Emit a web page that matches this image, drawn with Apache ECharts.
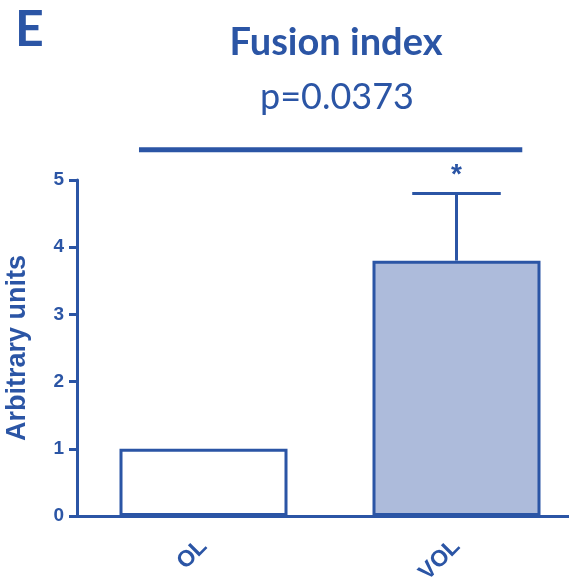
<!DOCTYPE html>
<html>
<head>
<meta charset="utf-8">
<script src="https://cdn.jsdelivr.net/npm/echarts@6/dist/echarts.min.js"></script>
<style>
  html, body { margin: 0; padding: 0; background: #fff; }
  #chart { width: 569px; height: 582px; }
</style>
</head>
<body>
<div id="chart"></div>
<script>
// data
const categories = ['OL', 'VOL'];
const means = [1.0, 3.8];
const errUpper = [null, 4.8];
const barFills = ['#ffffff', '#adbbdb'];
const yTicks = [0, 1, 2, 3, 4, 5];
const sigBracket = [[0, 1, 5.45]]; // from category, to category, height
const starHeight = 5.07;

const blue = '#2b55a5';

const chart = echarts.init(document.getElementById('chart'));

const option = {
    backgroundColor: '#fff',
    animation: false,
    graphic: [
        { type: 'text', left: 15, top: 5, style: { text: 'E', fill: blue, font: 'bold 50px Lato' } }
    ],
    title: [
        {
            text: 'Fusion index',
            left: 331, top: 19, textAlign: 'center',
            textStyle: { color: blue, fontFamily: 'Lato', fontWeight: 'bold', fontSize: 38 }
        },
        {
            text: 'p=0.0373',
            left: 332, top: 74, textAlign: 'center',
            textStyle: { color: blue, fontFamily: 'Lato', fontWeight: 'normal', fontSize: 36 }
        }
    ],
    grid: { left: 77, top: 180, width: 506, height: 336, outerBoundsMode: 'none' },
    xAxis: {
        type: 'category',
        data: categories,
        axisLine: { lineStyle: { color: blue, width: 3 } },
        axisTick: { alignWithLabel: true, length: 9, lineStyle: { color: blue, width: 3 } },
        axisLabel: {
            rotate: 45, margin: 27, color: blue,
            fontFamily: 'Liberation Sans', fontWeight: 'bold', fontSize: 23
        }
    },
    yAxis: {
        type: 'value',
        min: 0, max: 5, interval: 1,
        name: 'Arbitrary units',
        nameLocation: 'middle',
        nameGap: 46,
        nameTextStyle: { color: blue, fontFamily: 'Liberation Sans', fontWeight: 'bold', fontSize: 27 },
        axisLine: { show: true, lineStyle: { color: blue, width: 3 } },
        axisTick: { show: true, length: 8, lineStyle: { color: blue, width: 3 } },
        axisLabel: {
            margin: 13, color: blue,
            fontFamily: 'Liberation Sans', fontWeight: 'bold', fontSize: 19,
            formatter: v => yTicks.includes(v) ? String(v) : ''
        },
        splitLine: { show: false }
    },
    series: [
        {
            type: 'bar',
            barWidth: 168,
            data: means.map((v, i) => ({
                value: v,
                itemStyle: { color: barFills[i], borderColor: blue, borderWidth: 3 }
            }))
        },
        {
            type: 'custom',
            data: errUpper.map((u, i) => [i, means[i], u]).filter(d => d[2] !== null),
            z: 3,
            renderItem: (params, api) => {
                const x = api.value(0);
                const base = api.coord([x, api.value(1)]);
                const top = api.coord([x, api.value(2)]);
                const star = api.coord([x, starHeight]);
                const half = api.size([1, 0])[0] * 0.175;
                return {
                    type: 'group',
                    children: [
                        { type: 'line', shape: { x1: base[0], y1: base[1], x2: top[0], y2: top[1] },
                          style: { stroke: blue, lineWidth: 3 } },
                        { type: 'line', shape: { x1: top[0] - half, y1: top[1], x2: top[0] + half, y2: top[1] },
                          style: { stroke: blue, lineWidth: 3 } },
                        { type: 'text', x: star[0], y: star[1],
                          style: { text: '*', fill: blue, font: 'bold 28px Liberation Sans',
                                   align: 'center', verticalAlign: 'middle' } }
                    ]
                };
            }
        },
        {
            type: 'custom',
            data: sigBracket,
            z: 3,
            renderItem: (params, api) => {
                const band = api.size([1, 0])[0];
                const a = api.coord([api.value(0), api.value(2)]);
                const b = api.coord([api.value(1), api.value(2)]);
                return {
                    type: 'line',
                    shape: { x1: a[0] - band * 0.255, y1: a[1], x2: b[0] + band * 0.26, y2: b[1] },
                    style: { stroke: blue, lineWidth: 5 }
                };
            }
        }
    ]
};

chart.setOption(option);
</script>
</body>
</html>
